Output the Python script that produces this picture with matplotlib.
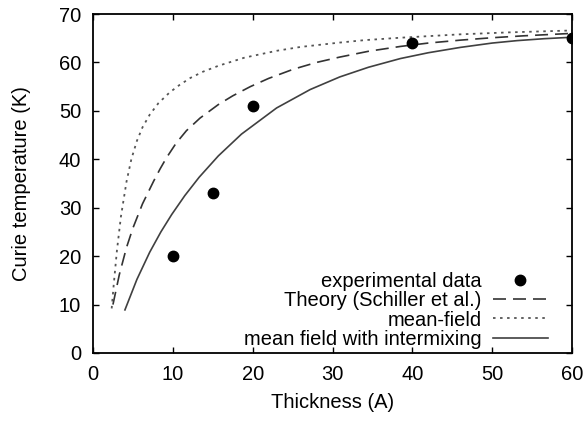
import matplotlib
matplotlib.use("Agg")
import matplotlib.pyplot as plt

# experimental data
exp_thickness = [10, 15, 20, 40, 60]
exp_tc = [20, 33, 51, 64, 65]

# Theory (Schiller et al.) - dashed
theory_x = [2.5, 3.3, 4.2, 5.0, 6.2, 7.6, 8.4, 9.2, 10.4, 11.7, 13.4, 15.7, 17.5, 19.7,
            22.0, 25.1, 28.0, 30.9, 34.5, 38.5, 42.0, 46.0, 50.0, 54.0, 60.0]
theory_y = [10.0, 16.2, 21.8, 25.8, 30.8, 35.5, 38.0, 40.3, 43.3, 45.9, 48.5, 51.3, 53.1, 55.0,
            56.7, 58.6, 60.0, 61.1, 62.3, 63.3, 64.0, 64.6, 65.1, 65.5, 66.0]

# mean-field - dotted
mf_x = [2.34, 2.6, 3.0, 3.5, 4.2, 4.8, 5.5, 6.2, 7.1, 8.2, 9.6, 10.8, 12.2, 13.8, 15.7,
        19.0, 23.0, 26.0, 30.9, 34.0, 38.5, 46.0, 52.0, 60.0]
mf_y = [9.2, 14.2, 21.2, 28.2, 35.4, 40.0, 43.8, 46.6, 49.2, 51.6, 53.8, 55.3, 56.8, 58.1, 59.3,
        61.0, 62.4, 63.2, 64.1, 64.6, 65.1, 65.8, 66.2, 66.6]

# mean field with intermixing - solid
mfi_x = [4.0, 5.5, 7.1, 8.5, 9.86, 11.5, 13.3, 15.7, 18.6, 23.0, 27.2, 30.9, 34.5, 38.5,
         42.0, 46.0, 50.0, 53.1, 56.5, 60.0]
mfi_y = [8.9, 15.2, 20.8, 25.0, 28.6, 32.5, 36.3, 40.7, 45.2, 50.6, 54.4, 57.0, 59.0, 60.8,
         62.0, 63.1, 64.0, 64.5, 64.9, 65.2]

x_ticks = [0, 10, 20, 30, 40, 50, 60]
y_ticks = [0, 10, 20, 30, 40, 50, 60, 70]

plt.rcParams['font.family'] = ['Liberation Sans', 'DejaVu Sans']
FS = 14.5

fig = plt.figure(figsize=(5.86, 4.21), dpi=100)
ax = fig.add_axes([93/586, 68/421, 479/586, 339/421])

ax.plot(exp_thickness, exp_tc, 'o', color='black', markersize=7.5, label='experimental data',
        zorder=5)
ax.plot(theory_x, theory_y, color='#333333', lw=1.2, linestyle=(0, (7.8, 4.2)),
        label='Theory (Schiller et al.)')
ax.plot(mf_x, mf_y, color='#555555', lw=1.3, linestyle=(0, (1.4, 2.5)), label='mean-field')
ax.plot(mfi_x, mfi_y, color='#404040', lw=1.2, label='mean field with intermixing')

ax.set_xlim(0, 60)
ax.set_ylim(0, 70)
ax.set_xticks(x_ticks)
ax.set_yticks(y_ticks)
ax.tick_params(direction='in', top=True, right=True, length=4.5, width=1.0,
               labelsize=FS, pad=8.5)
for s in ax.spines.values():
    s.set_linewidth(1.3)

ax.set_xlabel('Thickness (A)', fontsize=FS)
ax.set_ylabel('Curie temperature (K)', fontsize=FS)
ax.xaxis.set_label_coords(0.5, -0.118)
ax.yaxis.set_label_coords(-0.129, 0.5)

leg = ax.legend(loc='lower right', bbox_to_anchor=(0.95, 0.012), frameon=False,
                markerfirst=False, fontsize=FS, handlelength=2.75, handletextpad=0.55,
                labelspacing=0.02, borderpad=0, borderaxespad=0)

fig.savefig('out.png', dpi=100)
